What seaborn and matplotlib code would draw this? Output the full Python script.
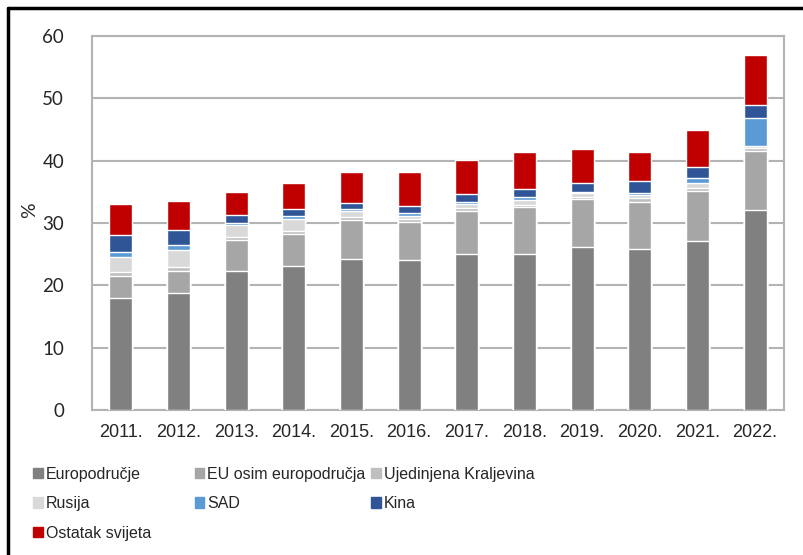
import numpy as np
import pandas as pd
import matplotlib
matplotlib.use("Agg")
import matplotlib.pyplot as plt
import matplotlib.patches as mpatches
from matplotlib import font_manager
import seaborn as sns

years = ['2011.', '2012.', '2013.', '2014.', '2015.', '2016.',
         '2017.', '2018.', '2019.', '2020.', '2021.', '2022.']

europodrucje = [18.0, 18.7, 22.3, 23.1, 24.25, 24.0, 25.0, 25.0, 26.2, 25.8, 27.15, 32.1]
eu_osim = [3.5, 3.6, 5.0, 5.2, 6.25, 6.1, 6.9, 7.5, 7.7, 7.65, 8.05, 9.5]
uk = [0.7, 0.6, 0.5, 0.4, 0.5, 0.5, 0.5, 0.4, 0.35, 0.5, 0.5, 0.4]
rusija = [2.4, 2.75, 1.85, 1.9, 0.9, 0.6, 0.65, 0.8, 0.55, 0.5, 0.7, 0.3]
sad = [0.8, 0.8, 0.35, 0.5, 0.35, 0.35, 0.35, 0.4, 0.25, 0.4, 0.85, 4.6]
kina = [2.6, 2.5, 1.35, 1.1, 0.95, 1.15, 1.3, 1.3, 1.35, 1.95, 1.7, 2.0]
ostatak = [5.1, 4.6, 3.6, 4.25, 5.0, 5.5, 5.45, 5.95, 5.4, 4.6, 6.0, 8.1]

series = ['Europodručje', 'EU osim europodručja', 'Ujedinjena Kraljevina',
          'Rusija', 'SAD', 'Kina', 'Ostatak svijeta']
values = [europodrucje, eu_osim, uk, rusija, sad, kina, ostatak]
colors = ['#808080', '#a6a6a6', '#bfbfbf', '#d9d9d9', '#5b9bd5', '#2f5597', '#c00000']

# legend columns as in the original (filled row by row)
legend_cols = [['Europodručje', 'Rusija', 'Ostatak svijeta'],
               ['EU osim europodručja', 'SAD'],
               ['Ujedinjena Kraljevina', 'Kina']]

df = pd.DataFrame({name: v for name, v in zip(series, values)}, index=years)
cum = df.cumsum(axis=1)

sns.set_style("white")
plt.rcParams['font.family'] = ['Liberation Sans', 'DejaVu Sans']

# narrow face for the legend if there is one
fonts = font_manager.fontManager.ttflist
leg_prop = {'family': ['Liberation Sans', 'DejaVu Sans'], 'size': 11.5}
if any(f.name == 'Liberation Sans Narrow' for f in fonts):
    leg_prop = {'family': ['Liberation Sans Narrow', 'DejaVu Sans'], 'size': 14}

fig = plt.figure(figsize=(8.04, 5.55), dpi=100)
ax = fig.add_axes([0.1144, 0.2613, 0.8606, 0.6737])

# stacking: draw the cumulative totals from the top layer down
for name, col in reversed(list(zip(series, colors))):
    d = pd.DataFrame({'year': years, 'val': cum[name].values})
    sns.barplot(data=d, x='year', y='val', color=col, width=0.4,
                saturation=1, ax=ax, zorder=3)

ax.set_ylim(0, 60)
ax.set_yticks(range(0, 61, 10))
ax.yaxis.grid(True, color='#b3b3b3', linewidth=1.5, zorder=0)
ax.set_axisbelow(True)
for s in ax.spines.values():
    s.set_color('#b3b3b3')
    s.set_linewidth(1.5)
ax.set_xlabel('')
ax.set_ylabel('%', family=['Lato', 'DejaVu Sans'], fontsize=14)
ax.yaxis.set_label_coords(-0.078, 0.535)
ax.tick_params(axis='both', length=0)
ax.tick_params(axis='y', pad=20)
ax.tick_params(axis='x', pad=10)
for lab in ax.get_yticklabels():
    lab.set_family(['Lato', 'DejaVu Sans'])
    lab.set_fontsize(13.5)
for lab in ax.get_xticklabels():
    lab.set_fontsize(13)

handles = {n: mpatches.Patch(color=c, label=n) for n, c in zip(series, colors)}
col_x = [0.041, 0.242, 0.462]
for names, x0 in zip(legend_cols, col_x):
    fig.legend([handles[n] for n in names], names, frameon=False,
               loc='upper left', bbox_to_anchor=(x0, 0.159),
               prop=leg_prop, handlelength=0.6, handleheight=0.6,
               handletextpad=0.2, labelspacing=0.9, borderaxespad=0,
               borderpad=0)

# outer frame of the picture
fig.add_artist(plt.Line2D([0.0105, 0.0105], [0, 0.986], color='black', lw=2.5,
                          transform=fig.transFigure))
fig.add_artist(plt.Line2D([0.0105, 1.0], [0.986, 0.986], color='black', lw=2.5,
                          transform=fig.transFigure))

plt.savefig('out.png', dpi=100)
